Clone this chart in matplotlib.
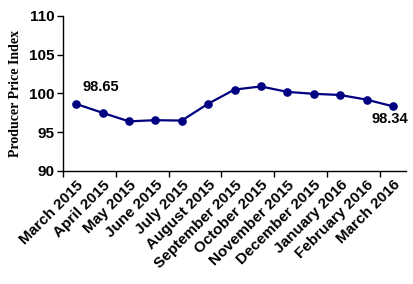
import matplotlib
matplotlib.use("Agg")
import matplotlib.pyplot as plt
import numpy as np

months = ["March 2015", "April 2015", "May 2015", "June 2015", "July 2015",
          "August 2015", "September 2015", "October 2015", "November 2015",
          "December 2015", "January 2016", "February 2016", "March 2016"]
ppi = [98.65, 97.5, 96.4, 96.55, 96.5, 98.67, 100.5, 100.9, 100.2, 99.95, 99.8, 99.2, 98.34]
yticks = [90, 95, 100, 105, 110]

fig = plt.figure(figsize=(4.14, 2.84), dpi=100)
ax = fig.add_axes([0.152, 0.398, 0.829, 0.546])
x = np.arange(len(months))
ax.plot(x, ppi, color="#000080", lw=1.6, marker="o", ms=5.2)

ax.set_xlim(-0.5, len(months) - 0.5)
ax.set_ylim(90, 110)
ax.set_yticks(yticks)
ax.set_yticklabels([str(v) for v in yticks], fontfamily="Liberation Sans",
                   fontweight="bold", fontsize=11)
ax.set_xticks(x)
ax.set_xticklabels(months, rotation=45, ha="right", rotation_mode="anchor",
                   fontfamily="Liberation Sans", fontweight="bold", fontsize=11)
ax.tick_params(axis="x", which="major", length=0, pad=5)
ax.set_xticks(np.arange(-0.5, len(months) - 0.5, 2), minor=True)
ax.tick_params(axis="x", which="minor", length=4, width=1, direction="out")
ax.tick_params(axis="y", length=4, width=1, direction="out", pad=2)

for s in ["top", "right"]:
    ax.spines[s].set_visible(False)
for s in ["left", "bottom"]:
    ax.spines[s].set_linewidth(1)

ax.set_ylabel("Producer Price Index", fontfamily="Liberation Serif",
              fontweight="bold", fontsize=10, labelpad=5)

ax.annotate(f"{ppi[0]:.2f}", (x[0], ppi[0]), xytext=(18, 12), textcoords="offset points",
            ha="center", va="center", fontfamily="Liberation Sans",
            fontweight="bold", fontsize=10.5)
ax.annotate(f"{ppi[-1]:.2f}", (x[-1], ppi[-1]), xytext=(-2, -9), textcoords="offset points",
            ha="center", va="center", fontfamily="Liberation Sans",
            fontweight="bold", fontsize=10.5)

fig.savefig("out.png", dpi=100)
